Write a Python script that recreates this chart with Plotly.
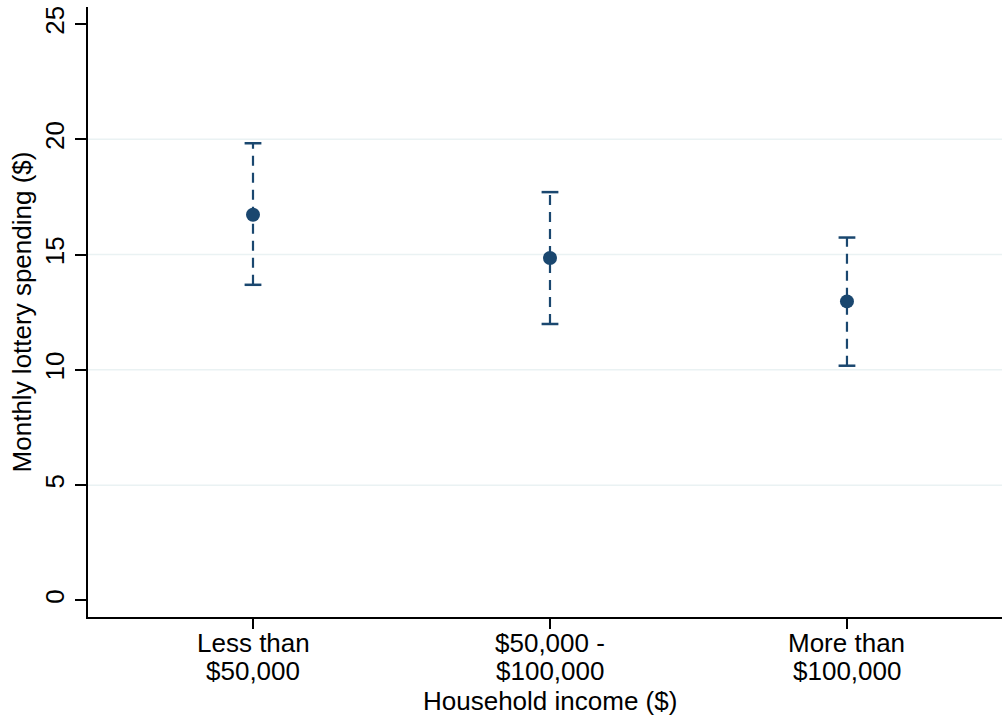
import plotly.graph_objects as go

# ---- data ----
categories_line1 = ["Less than", "$50,000 -", "More than"]
categories_line2 = ["$50,000", "$100,000", "$100,000"]
cat_pos = [1, 2, 3]
means = [16.73, 14.85, 12.97]
ci_low = [13.69, 11.99, 10.18]
ci_high = [19.83, 17.71, 15.74]
y_ticks = [0, 5, 10, 15, 20, 25]
grid_vals = [5, 10, 15, 20]

NAVY = "#1a476f"
FONT = "Liberation Sans, Arial, sans-serif"
FS = 26

fig = go.Figure()

# dashed CI lines
xs, ys = [], []
for c, lo, hi in zip(cat_pos, ci_low, ci_high):
    xs += [c, c, None]
    ys += [lo, hi, None]
fig.add_trace(go.Scatter(x=xs, y=ys, mode="lines",
                         line=dict(color=NAVY, width=2.2, dash="10px,7px"),
                         hoverinfo="skip", showlegend=False))
# caps
fig.add_trace(go.Scatter(x=cat_pos + cat_pos, y=ci_low + ci_high, mode="markers",
                         marker=dict(symbol="line-ew", size=12,
                                     line=dict(color=NAVY, width=2.5)),
                         hoverinfo="skip", showlegend=False))
# means
fig.add_trace(go.Scatter(x=cat_pos, y=means, mode="markers",
                         marker=dict(symbol="circle", size=14, color=NAVY),
                         showlegend=False))

# gridlines
for g in grid_vals:
    fig.add_shape(type="line", xref="paper", yref="y", x0=0, x1=1, y0=g, y1=g,
                  line=dict(color="#eaf2f3", width=1.5), layer="below")

# category labels (two tight lines)
for c, l1, l2 in zip(cat_pos, categories_line1, categories_line2):
    fig.add_annotation(x=c, xref="x", y=0, yref="paper", text=l1, showarrow=False,
                       yanchor="middle", yshift=-26, font=dict(family=FONT, size=FS, color="black"))
    fig.add_annotation(x=c, xref="x", y=0, yref="paper", text=l2, showarrow=False,
                       yanchor="middle", yshift=-54, font=dict(family=FONT, size=FS, color="black"))
fig.add_annotation(x=2, xref="x", y=0, yref="paper", text="Household income ($)",
                   showarrow=False, yanchor="middle", yshift=-84,
                   font=dict(family=FONT, size=FS, color="black"))

fig.update_layout(
    width=1002, height=721,
    margin=dict(l=88, r=0, t=7, b=104, autoexpand=False),
    paper_bgcolor="white", plot_bgcolor="white",
    font=dict(family=FONT, size=FS, color="black"),
    xaxis=dict(range=[0.4444, 3.522], tickvals=cat_pos, showticklabels=False,
               ticks="outside", ticklen=10, tickwidth=1.5, tickcolor="black",
               showline=True, linecolor="black", linewidth=2, showgrid=False,
               zeroline=False, automargin=False),
    yaxis=dict(range=[-0.72, 25.74], tickvals=y_ticks, ticktext=[str(t) for t in y_ticks],
               tickangle=-90, ticks="outside", ticklen=11, tickwidth=1.5, tickcolor="black",
               showline=True, linecolor="black", linewidth=2, showgrid=False,
               zeroline=False, ticklabelstandoff=1, automargin=False,
               title=dict(text="Monthly lottery spending ($)", standoff=0,
                          font=dict(family=FONT, size=FS))),
)

fig.write_html("out.html", config={"displayModeBar": False},
               post_script="document.body.style.margin='0';document.body.style.overflow='hidden';")
